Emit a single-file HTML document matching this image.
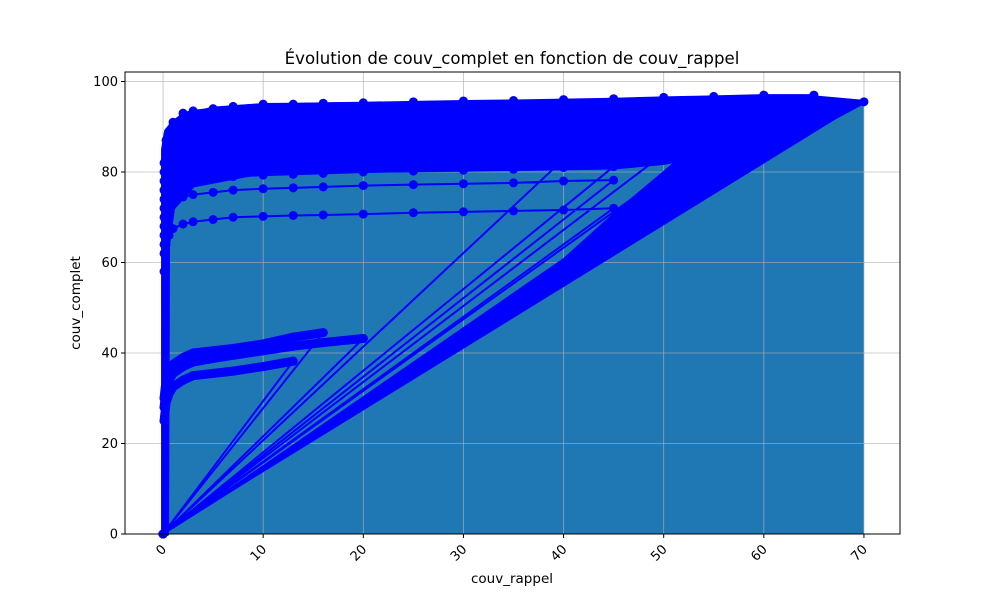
<!DOCTYPE html>
<html><head><meta charset="utf-8"><style>
body{margin:0;background:#fff;font-family:"DejaVu Sans","Liberation Sans",sans-serif}
svg text{font-family:"DejaVu Sans","Liberation Sans",sans-serif;fill:#000}
</style></head><body>
<svg id="chart" width="1000" height="600" xmlns="http://www.w3.org/2000/svg">
<rect width="1000" height="600" fill="#fff"/>
<g id="plot"></g>
<text x="512" y="64" font-size="16.6" text-anchor="middle">Évolution de couv_complet en fonction de couv_rappel</text>
<text x="512" y="583" font-size="13.5" text-anchor="middle">couv_rappel</text>
<text x="80" y="303" font-size="13.5" text-anchor="middle" transform="rotate(-90 80 303)">couv_complet</text>
</svg>
<script>
const xTicks=[0,10,20,30,40,50,60,70];
const yTicks=[0,20,40,60,80,100];
const xGrid=[0,0.1,0.3,0.6,1,2,3,5,7,10,13,16,20,25,30,35,40,45,50,55,60,65,70];
const fillX=[0,0,1,3,8,20,40,60,70,70];
const fillY=[0,86,91,93.5,94.5,95,95.5,96,95.5,0];
// dense overlap region of the many series
const bandX=[0,0,0.3,1,2,5,10,20,30,40,50,55,60,65,70,62,55,50,45,30,10,3,1,0.5,0.4];
const bandY=[0,85,89,91,92.5,94,94.8,95,95.3,95.6,96,96.2,96.4,96.5,95.5,86,84,82,81,80.5,80,77,72,64,0];
const wedgeX=[0,70,52,45,40];
const wedgeY=[0,95.5,84,71,61];
const s1=[0,82,87,89,91,93,93.5,94,94.5,95,95,95.2,95.3,95.5,95.7,95.8,96,96.2,96.5,96.7,97,97];
const s2=[0,80,85,88,90,92,93,93.5,94,94.3,94.5,94.6,94.7,94.8,95,95.2,95.4,95.5,95.6,95.7,95.8,95.6,95.5];
const s3=[0,78,84,87,89,91,92,92.5,93,93.3,93.5,93.6,93.7,93.8,94,94.2,94.4,94.6,94.8,95,95.2,94];
const s4=[0,76,82,85,87,89,90,90.5,91,91.3,91.5,91.6,91.8,92,92.2,92.4,92.6,92.8,93,93.2,93.5,91];
const s5=[0,74,80,83,85,87,88,88.5,89,89.3,89.5,89.7,90,90.2,90.4,90.6,90.8,91,91.2,91.4,88];
const s6=[0,72,78,81,83,85,86,86.5,87,87.3,87.5,87.7,88,88.2,88.4,88.6,88.8,89,89.2,89.4,85.5];
const s7=[0,70,76,79,81,83,84,84.5,85,85.3,85.5,85.7,86,86.2,86.4,86.6,86.8,87,87.2,87];
const s8=[0,68,74,77,79,81,82,82.5,83,83.3,83.5,83.7,84,84.2,84.4,84.6,84.8,85,84];
const s9=[0,66,72,75,77,79,80,80.5,81,81.3,81.5,81.7,82,82.2,82.4,82.6,82.8];
const s10=[0,64,70,73,75,77,78,78.5,79,79.3,79.5,79.7,80,80.2,80.4,80.6,81,81.2];
const s11=[0,62,68,71,73,74.5,75,75.5,76,76.3,76.5,76.7,77,77.2,77.4,77.6,78,78.2];
const s12=[0,58,64,66,67.5,68.5,69,69.5,70,70.2,70.4,70.5,70.7,71,71.2,71.4,71.6,72];
const s13=[0,30,34,36,37.5,39,40,40.5,41,42,43.5,44.5];
const s14=[0,28,32,34,35.5,37,38,38.8,39.5,40.5,41.5,42.3,43.2];
const s15=[0,25,29,31,32.5,34,35,35.5,36,37,38.2];
const seriesList=[s15,s13,s14,s12,s11,s10,s9,s8,s7,s6,s5,s4,s3,s1,s2];

const L=125,R=900,T=72,B=534, xmin=-3.8,xmax=73.6,ymin=0,ymax=102.1;
const X=v=>L+(v-xmin)/(xmax-xmin)*(R-L);
const Y=v=>B-(v-ymin)/(ymax-ymin)*(B-T);
const NS="http://www.w3.org/2000/svg";
const g=document.getElementById('plot');
function mk(t,a,p){const e=document.createElementNS(NS,t);for(const k in a)e.setAttribute(k,a[k]);(p||g).appendChild(e);return e;}
const poly=(xs,ys)=>xs.map((x,i)=>X(x)+','+Y(ys[i])).join(' ');

const fill=mk('polygon',{points:poly(fillX,fillY),fill:'#1f77b4'});


xTicks.forEach(t=>{const l=mk('line',{x1:X(t),x2:X(t),y1:T,y2:B,stroke:'#b0b0b0','stroke-width':0.8,opacity:0.8});

});
yTicks.forEach(t=>{const l=mk('line',{x1:L,x2:R,y1:Y(t),y2:Y(t),stroke:'#b0b0b0','stroke-width':0.8,opacity:0.8});

});
const band=mk('polygon',{points:poly(bandX,bandY),fill:'#0000ff',stroke:'#0000ff','stroke-width':4,'stroke-linejoin':'round'});


const wedge=mk('polygon',{points:poly(wedgeX,wedgeY),fill:'#0000ff'});


let pts=[];
seriesList.forEach(s=>s.forEach((y,i)=>pts.push([X(xGrid[i]),Y(y)])));
const pl=mk('polyline',{points:pts.map(p=>p.join(',')).join(' '),fill:'none',stroke:'#0000ff','stroke-width':2,'stroke-linejoin':'round'});


pts.forEach(p=>{const c=mk('circle',{cx:p[0],cy:p[1],r:4.5,fill:'#0000ff'});

});
[s13,s14,s15].forEach(s=>{const p=mk('polyline',{points:s.slice(1).map((y,i)=>X(xGrid[i+1])+','+Y(y)).join(' '),fill:'none',stroke:'#0000ff','stroke-width':9,'stroke-linecap':'round'});

});
const fr=mk('rect',{x:L,y:T,width:R-L,height:B-T,fill:'none',stroke:'#000','stroke-width':1});


xTicks.forEach(t=>{const x=X(t);mk('line',{x1:x,x2:x,y1:B,y2:B+4,stroke:'#000'});
const tx=mk('text',{x:x+4,y:B+16,'font-size':13,'text-anchor':'end',transform:`rotate(-45 ${x+4} ${B+16})`});tx.textContent=t;

});
yTicks.forEach(t=>{const y=Y(t);mk('line',{x1:L-4,x2:L,y1:y,y2:y,stroke:'#000'});
const tx=mk('text',{x:L-7,y:y+4.5,'font-size':13,'text-anchor':'end'});tx.textContent=t;

});
</script>
</body></html>
